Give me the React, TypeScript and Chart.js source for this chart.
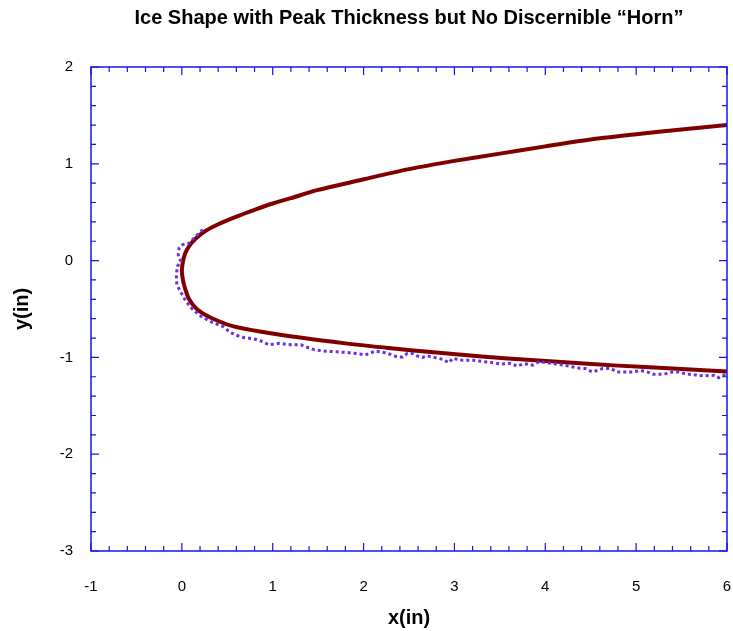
import React, { useEffect, useRef } from 'react';
import { Chart, registerables } from 'chart.js';

Chart.register(...registerables);

const chartTitle = 'Ice Shape with Peak Thickness but No Discernible \u201CHorn\u201D';
const xAxisTitle = 'x(in)';
const yAxisTitle = 'y(in)';
const xLimits = [-1, 6];
const yLimits = [-3, 2];

// Clean leading edge (solid maroon)
const cleanX = [6.0, 5.5, 5.0, 4.5, 4.0, 3.5, 3.0, 2.5, 2.0, 1.5, 1.2, 1.0, 0.8, 0.6, 0.4, 0.25, 0.15, 0.08, 0.035, 0.01, 0.0, 0.01, 0.03, 0.08, 0.17, 0.32, 0.57, 0.94, 1.3, 1.8, 2.3, 2.8, 3.3, 3.8, 4.3, 4.8, 5.4, 6.0];
const cleanY = [1.40, 1.355, 1.305, 1.25, 1.18, 1.105, 1.03, 0.945, 0.84, 0.73, 0.645, 0.59, 0.525, 0.455, 0.375, 0.30, 0.225, 0.15, 0.07, -0.02, -0.11, -0.19, -0.27, -0.40, -0.505, -0.59, -0.68, -0.745, -0.795, -0.855, -0.905, -0.95, -0.99, -1.025, -1.055, -1.085, -1.115, -1.145];

// Ice shape (dotted violet)
const iceX = [0.23, 0.135, 0.08, 0.01, -0.03, -0.04, -0.01, -0.05, -0.06, -0.055, -0.01, 0.045, 0.12, 0.21, 0.34, 0.45, 0.54, 0.65, 0.80, 0.87, 0.96, 1.07, 1.20, 1.31, 1.36, 1.455, 1.565, 1.675, 1.82, 1.93, 2.02, 2.06, 2.13, 2.225, 2.30, 2.37, 2.43, 2.48, 2.54, 2.59, 2.65, 2.70, 2.775, 2.87, 2.94, 2.98, 3.09, 3.215, 3.325, 3.435, 3.51, 3.62, 3.69, 3.765, 3.86, 3.93, 4.02, 4.13, 4.205, 4.28, 4.37, 4.44, 4.52, 4.57, 4.63, 4.72, 4.79, 4.865, 4.96, 5.05, 5.12, 5.19, 5.29, 5.32, 5.40, 5.47, 5.56, 5.62, 5.69, 5.745, 5.82, 5.855, 5.91, 5.965, 6.0];
const iceY = [0.32, 0.235, 0.18, 0.165, 0.13, 0.06, -0.01, -0.06, -0.16, -0.25, -0.33, -0.42, -0.505, -0.575, -0.64, -0.68, -0.745, -0.79, -0.81, -0.83, -0.87, -0.855, -0.87, -0.87, -0.89, -0.92, -0.935, -0.94, -0.95, -0.96, -0.975, -0.96, -0.935, -0.95, -0.97, -0.995, -0.995, -0.96, -0.96, -0.985, -1.0, -0.985, -1.0, -1.02, -1.055, -1.01, -1.03, -1.03, -1.045, -1.055, -1.07, -1.06, -1.09, -1.065, -1.08, -1.045, -1.055, -1.07, -1.08, -1.095, -1.11, -1.115, -1.15, -1.135, -1.115, -1.115, -1.15, -1.15, -1.15, -1.135, -1.15, -1.175, -1.175, -1.17, -1.15, -1.15, -1.175, -1.175, -1.19, -1.185, -1.19, -1.185, -1.21, -1.185, -1.16];

const AXIS_COLOR = '#1414ee';
const FONT = "'Liberation Sans', Arial, sans-serif";

const framePlugin = {
  id: 'frame',
  afterDatasetsDraw(chart: any) {
    const { ctx, chartArea: a, scales } = chart;
    const xs = scales.x;
    const ys = scales.y;
    ctx.save();
    ctx.strokeStyle = AXIS_COLOR;
    ctx.lineWidth = 1.5;
    ctx.strokeRect(a.left, a.top, a.right - a.left, a.bottom - a.top);
    ctx.lineWidth = 1.2;
    ctx.beginPath();
    const nx = Math.round((xLimits[1] - xLimits[0]) / 0.2);
    for (let i = 0; i <= nx; i++) {
      const v = xLimits[0] + i * 0.2;
      const len = i % 5 === 0 ? 8 : 5;
      const px = xs.getPixelForValue(v);
      ctx.moveTo(px, a.bottom);
      ctx.lineTo(px, a.bottom - len);
      ctx.moveTo(px, a.top);
      ctx.lineTo(px, a.top + len);
    }
    const ny = Math.round((yLimits[1] - yLimits[0]) / 0.2);
    for (let i = 0; i <= ny; i++) {
      const v = yLimits[0] + i * 0.2;
      const len = i % 5 === 0 ? 8 : 5;
      const py = ys.getPixelForValue(v);
      ctx.moveTo(a.left, py);
      ctx.lineTo(a.left + len, py);
      ctx.moveTo(a.right, py);
      ctx.lineTo(a.right - len, py);
    }
    ctx.stroke();
    ctx.restore();
  },
};

export default function App() {
  const canvasRef = useRef<HTMLCanvasElement | null>(null);

  useEffect(() => {
    if (!canvasRef.current) return;
    const chart = new Chart(canvasRef.current, {
      type: 'scatter',
      data: {
        datasets: [
          {
            label: 'Ice',
            data: iceX.map((x, i) => ({ x, y: iceY[i] })),
            showLine: true,
            borderColor: '#6c2ee0',
            backgroundColor: '#6c2ee0',
            borderWidth: 3,
            borderDash: [3, 3],
            pointRadius: 0,
            tension: 0,
          },
          {
            label: 'Clean',
            data: cleanX.map((x, i) => ({ x, y: cleanY[i] })),
            showLine: true,
            borderColor: '#800000',
            backgroundColor: '#800000',
            borderWidth: 4,
            pointRadius: 0,
            tension: 0.3,
          },
        ],
      },
      options: {
        animation: false,
        responsive: true,
        maintainAspectRatio: false,
        layout: { padding: { left: 0, right: 6, top: 0, bottom: 0 } },
        plugins: {
          legend: { display: false },
          tooltip: { enabled: false },
          title: {
            display: true,
            text: chartTitle,
            fullSize: false,
            color: '#000',
            font: { family: FONT, size: 20, weight: 'bold' },
            padding: { top: 6, bottom: 37 },
          },
        },
        scales: {
          x: {
            type: 'linear',
            min: xLimits[0],
            max: xLimits[1],
            grid: { display: false, drawTicks: false },
            border: { display: false },
            ticks: {
              stepSize: 1,
              color: '#000',
              font: { family: FONT, size: 15 },
              padding: 27,
              maxRotation: 0,
            },
            title: {
              display: true,
              text: xAxisTitle,
              color: '#000',
              font: { family: FONT, size: 20, weight: 'bold' },
              padding: { top: 0, bottom: 1 },
            },
            afterFit: (s: any) => {
              s.height = 80;
              s.paddingLeft = 0;
              s.paddingRight = 0;
            },
          },
          y: {
            type: 'linear',
            min: yLimits[0],
            max: yLimits[1],
            grid: { display: false, drawTicks: false },
            border: { display: false },
            ticks: {
              stepSize: 1,
              color: '#000',
              font: { family: FONT, size: 15 },
              padding: 18,
            },
            title: {
              display: true,
              text: yAxisTitle,
              color: '#000',
              font: { family: FONT, size: 20, weight: 'bold' },
              padding: { top: 10, bottom: 0 },
            },
            afterFit: (s: any) => {
              s.width = 91;
              s.paddingTop = 0;
              s.paddingBottom = 0;
            },
          },
        },
      },
      plugins: [framePlugin],
    });
    return () => chart.destroy();
  }, []);

  return (
    <div style={{ position: 'fixed', left: 0, top: 0, width: 733, height: 631, background: '#fff' }}>
      <canvas ref={canvasRef} />
    </div>
  );
}
